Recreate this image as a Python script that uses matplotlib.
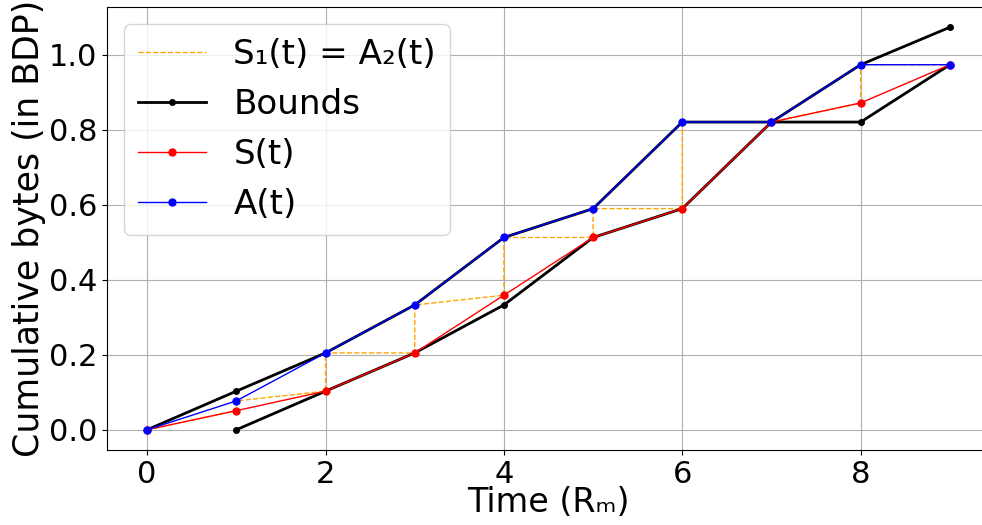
import matplotlib
matplotlib.use("Agg")
import matplotlib.pyplot as plt
import numpy as np

t = [0, 1, 2, 3, 4, 5, 6, 7, 8, 9]
s_vals = [0.0, 0.051, 0.103, 0.205, 0.359, 0.513, 0.590, 0.821, 0.872, 0.974]
a_vals = [0.0, 0.077, 0.205, 0.333, 0.513, 0.590, 0.821, 0.821, 0.974, 0.974]
upper_t = [0, 1, 2, 3, 4, 5, 6, 7, 8, 9]
upper_vals = [0.0, 0.103, 0.205, 0.333, 0.513, 0.590, 0.821, 0.821, 0.974, 1.074]
lower_t = [1, 2, 3, 4, 5, 6, 7, 8, 9]
lower_vals = [0.0, 0.103, 0.205, 0.333, 0.513, 0.590, 0.821, 0.821, 0.974]

# staircase S1(t) = A2(t): alternate S then A at each time
stair_t, stair_v = [], []
for ti, si, ai in zip(t, s_vals, a_vals):
    stair_t += [ti, ti]
    stair_v += [si, ai]

plt.rcParams['font.size'] = 22
fig = plt.figure(figsize=(9.82, 5.25), dpi=100)
ax = fig.add_axes([107/982, 75/525, 883/982, 443/525])

ax.plot(stair_t, stair_v, color='orange', linestyle='--', linewidth=1, label='S\u2081(t) = A\u2082(t)')
ax.plot(upper_t, upper_vals, color='black', marker='o', markersize=4, linewidth=2, label='Bounds')
ax.plot(lower_t, lower_vals, color='black', marker='o', markersize=4, linewidth=2)
ax.plot(t, s_vals, color='red', marker='o', markersize=5, linewidth=1, label='S(t)')
ax.plot(t, a_vals, color='blue', marker='o', markersize=5, linewidth=1, label='A(t)')

ax.set_xlim(-0.45, 9.45)
ax.set_ylim(-0.054, 1.128)
ax.set_xticks([0, 2, 4, 6, 8])
ax.set_yticks([0.0, 0.2, 0.4, 0.6, 0.8, 1.0])
ax.tick_params(labelsize=22)
ax.grid(True)
ax.set_xlabel('Time (R\u2098)', fontsize=24, labelpad=-2)
ax.set_ylabel('Cumulative bytes (in BDP)', fontsize=25, labelpad=2)
ax.legend(loc='upper left', fontsize=24.6)

fig.savefig('out.png', dpi=100)
